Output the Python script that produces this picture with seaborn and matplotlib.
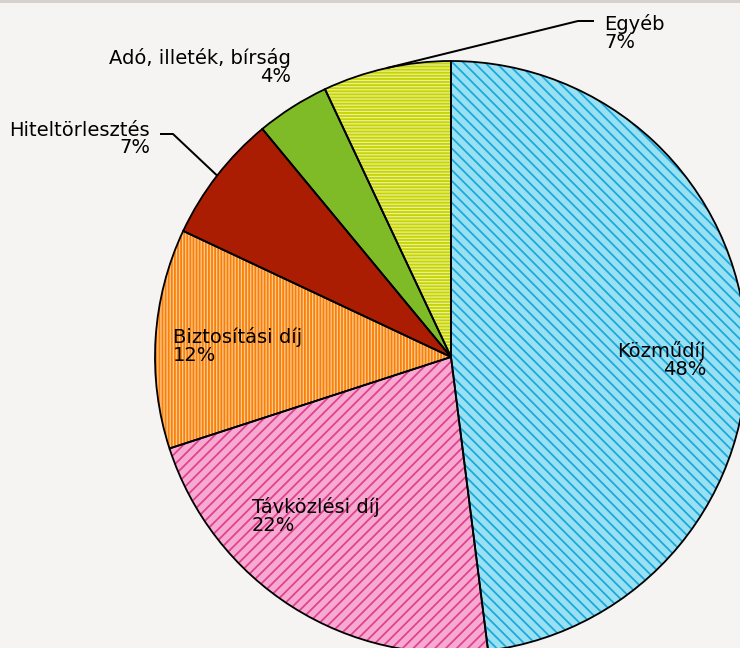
import numpy as np
import matplotlib
matplotlib.use("Agg")
import matplotlib.pyplot as plt
import seaborn as sns

# Data
categories = ["Közműdíj", "Távközlési díj", "Biztosítási díj",
              "Hiteltörlesztés", "Adó, illeték, bírság", "Egyéb"]
shares = [48, 22, 12, 7, 4, 7]
fill_colors = ["#9ae0f3", "#f6aad2", "#fdc995", "#aa1d03", "#7fba27", "#e9ef93"]
hatch_colors = ["#1aa9dc", "#e2418e", "#fa8005", "#aa1d03", "#7fba27", "#c6d400"]
hatches = ["\\\\\\\\", "////", "|||||||", "", "", "-------"]

sns.set_theme(style="white")
plt.rcParams["font.family"] = ["DejaVu Sans"]
plt.rcParams["text.color"] = "black"
plt.rcParams["hatch.linewidth"] = 1.0

DPI = 130
W, H = 740, 648
fig = plt.figure(figsize=(W / DPI, H / DPI), dpi=DPI)
bg = "#f5f4f2"
fig.patch.set_facecolor(bg)
ax = fig.add_axes([0, 0, 1, 1])
ax.set_facecolor(bg)

cx, cy, R = 451, H - 357, 296
palette = sns.color_palette(fill_colors)

# Hatched fills (hatch drawn in edge colour)
fills, _ = ax.pie(shares, colors=palette, startangle=90, counterclock=False,
                  center=(cx, cy), radius=R, frame=True,
                  wedgeprops=dict(linewidth=0))
for w, hc, h in zip(fills, hatch_colors, hatches):
    w.set_edgecolor(hc)
    w.set_hatch(h)

# Black outlines on top
outlines, _ = ax.pie(shares, colors=["none"] * len(shares), startangle=90,
                     counterclock=False, center=(cx, cy), radius=R, frame=True,
                     wedgeprops=dict(linewidth=1.0, edgecolor="black", fill=False))

ax.set_xlim(0, W)
ax.set_ylim(0, H)
ax.set_aspect("equal")
ax.axis("off")

# Thin grey band along the top edge
ax.axhspan(H - 3, H, color="#d6d1cc", lw=0)

fs = 10.8
lab = [f"{c}\n{v}%" for c, v in zip(categories, shares)]
txt = dict(fontsize=fs, linespacing=0.92, color="black")

def mid_point(w):
    t = np.deg2rad((w.theta1 + w.theta2) / 2)
    return cx + R * np.cos(t), cy + R * np.sin(t)

# Inside labels
ax.text(706, H - 360, lab[0], ha="right", va="center", multialignment="right", **txt)
ax.text(252, H - 516, lab[1], ha="left", va="center", multialignment="left", **txt)
ax.text(173, H - 346, lab[2], ha="left", va="center", multialignment="left", **txt)

# Outside labels with leader lines
x0, y0 = mid_point(fills[3])
ax.plot([x0, 173, 160], [y0, H - 134, H - 134], color="black", lw=1.1,
        solid_capstyle="butt")
ax.text(150, H - 139, lab[3], ha="right", va="center", multialignment="right", **txt)

ax.text(291, H - 67, lab[4], ha="right", va="center", multialignment="right", **txt)

x0, y0 = mid_point(fills[5])
ax.plot([x0, 578, 594], [y0, H - 21, H - 21], color="black", lw=1.1,
        solid_capstyle="butt")
ax.text(604, H - 33, lab[5], ha="left", va="center", multialignment="left", **txt)

fig.savefig("out.png", dpi=DPI, facecolor=bg)
